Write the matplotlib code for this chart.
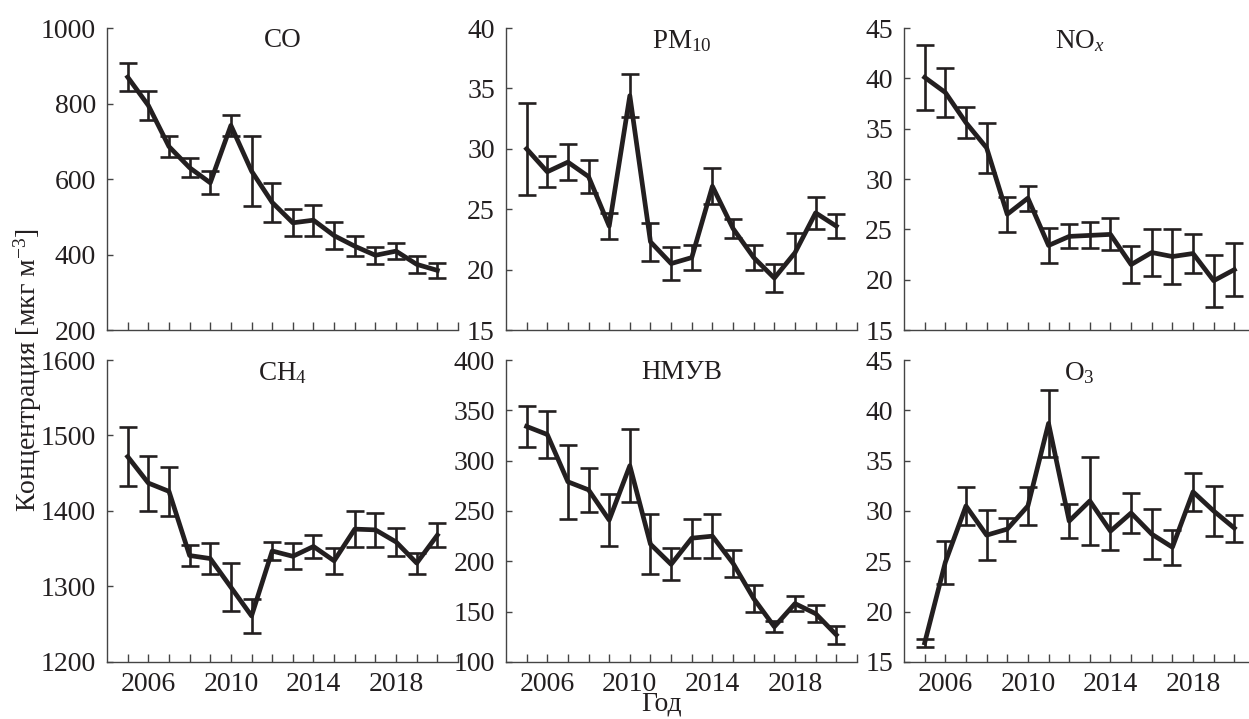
import numpy as np
import matplotlib.pyplot as plt

years = np.arange(2005, 2021)

co = [870, 795, 686, 630, 590, 742, 621, 538, 484, 491, 450, 422, 398, 409, 374, 358]
co_err = [38, 38, 27, 25, 30, 27, 93, 52, 36, 41, 35, 27, 23, 22, 22, 20]

pm10 = [30.0, 28.1, 28.9, 27.7, 23.6, 34.4, 22.3, 20.5, 21.0, 26.9, 23.4, 21.0, 19.3, 21.4, 24.7, 23.6]
pm10_err = [3.8, 1.3, 1.5, 1.35, 1.1, 1.8, 1.6, 1.35, 1.0, 1.5, 0.8, 1.0, 1.15, 1.65, 1.3, 1.0]

nox = [40.1, 38.6, 35.6, 33.1, 26.5, 28.1, 23.4, 24.3, 24.4, 24.5, 21.5, 22.7, 22.3, 22.6, 19.9, 21.0]
nox_err = [3.25, 2.4, 1.55, 2.5, 1.75, 1.25, 1.75, 1.2, 1.3, 1.6, 1.85, 2.3, 2.75, 1.95, 2.6, 2.6]

ch4 = [1472, 1437, 1426, 1341, 1337, 1299, 1261, 1347, 1340, 1353, 1334, 1376, 1375, 1359, 1331, 1368]
ch4_err = [39, 36.5, 32.5, 14, 21, 31.5, 22, 12.5, 17, 15.5, 17, 23.5, 22.5, 18, 14, 16]

nmvoc = [334, 326, 279, 271, 241, 295, 217, 197, 223, 225, 198, 163, 135, 158, 148, 127]
nmvoc_err = [20.5, 23.5, 37, 22, 25.7, 36, 30, 16, 19.4, 22, 13.6, 13.5, 5.7, 7.6, 8.7, 9]

o3 = [16.9, 24.9, 30.5, 27.6, 28.2, 30.5, 38.7, 29.0, 31.0, 28.0, 29.8, 27.7, 26.4, 31.9, 30.0, 28.3]
o3_err = [0.4, 2.15, 1.9, 2.5, 1.15, 1.85, 3.3, 1.7, 4.4, 1.85, 1.95, 2.45, 1.75, 1.9, 2.5, 1.35]

panels = [
    ('CO', co, co_err, (200, 1000), [200, 400, 600, 800, 1000]),
    ('PM$_{10}$', pm10, pm10_err, (15, 40), [15, 20, 25, 30, 35, 40]),
    ('NO$_{\\mathit{x}}$', nox, nox_err, (15, 45), [15, 20, 25, 30, 35, 40, 45]),
    ('CH$_4$', ch4, ch4_err, (1200, 1600), [1200, 1300, 1400, 1500, 1600]),
    ('НМУВ', nmvoc, nmvoc_err, (100, 400), [100, 150, 200, 250, 300, 350, 400]),
    ('O$_3$', o3, o3_err, (15, 45), [15, 20, 25, 30, 35, 40, 45]),
]

plt.rcParams['font.family'] = ['Liberation Serif', 'DejaVu Serif']
plt.rcParams['mathtext.fontset'] = 'custom'
plt.rcParams['mathtext.rm'] = 'Liberation Serif'
plt.rcParams['mathtext.it'] = 'Liberation Serif:italic'

ink = '#231f20'
fig = plt.figure(figsize=(12.49, 7.19), dpi=100)

lefts = [0.0857, 0.4051, 0.7238]
bottoms = [0.541, 0.0793]
w, h = 0.281, 0.42

for i, (name, vals, errs, ylim, yt) in enumerate(panels):
    ax = fig.add_axes([lefts[i % 3], bottoms[i // 3], w, h])
    ax.errorbar(years, vals, yerr=errs, color=ink, lw=3.4, elinewidth=1.9,
                capsize=6.5, capthick=1.9)
    ax.set_xlim(2004, 2021)
    ax.set_ylim(*ylim)
    ax.set_yticks(yt)
    ax.set_xticks(np.arange(2005, 2022))
    if i // 3 == 1:
        ax.set_xticklabels([str(y) if y in (2006, 2010, 2014, 2018) else ''
                            for y in range(2005, 2022)])
    else:
        ax.set_xticklabels([])
    for s in ['top', 'right']:
        ax.spines[s].set_visible(False)
    for s in ['left', 'bottom']:
        ax.spines[s].set_color('#444444')
        ax.spines[s].set_linewidth(1.0)
    ax.tick_params(axis='y', direction='in', length=4.5, width=1.0,
                   color='#444444', labelsize=20, pad=8, labelcolor=ink)
    ax.tick_params(axis='x', direction='in', length=6, width=1.0,
                   color='#444444', labelsize=20, pad=7, labelcolor=ink)
    ax.text(0.5, 1.0, name, transform=ax.transAxes, ha='center', va='top',
            fontsize=19.5, color=ink)

fig.text(0.022, 0.485, 'Концентрация [мкг м$^{-3}$]', rotation=90,
         ha='center', va='center', fontsize=20, color=ink)
fig.text(0.53, 0.003, 'Год', ha='center', va='bottom', fontsize=20, color=ink)

fig.savefig('out.png', dpi=100)
